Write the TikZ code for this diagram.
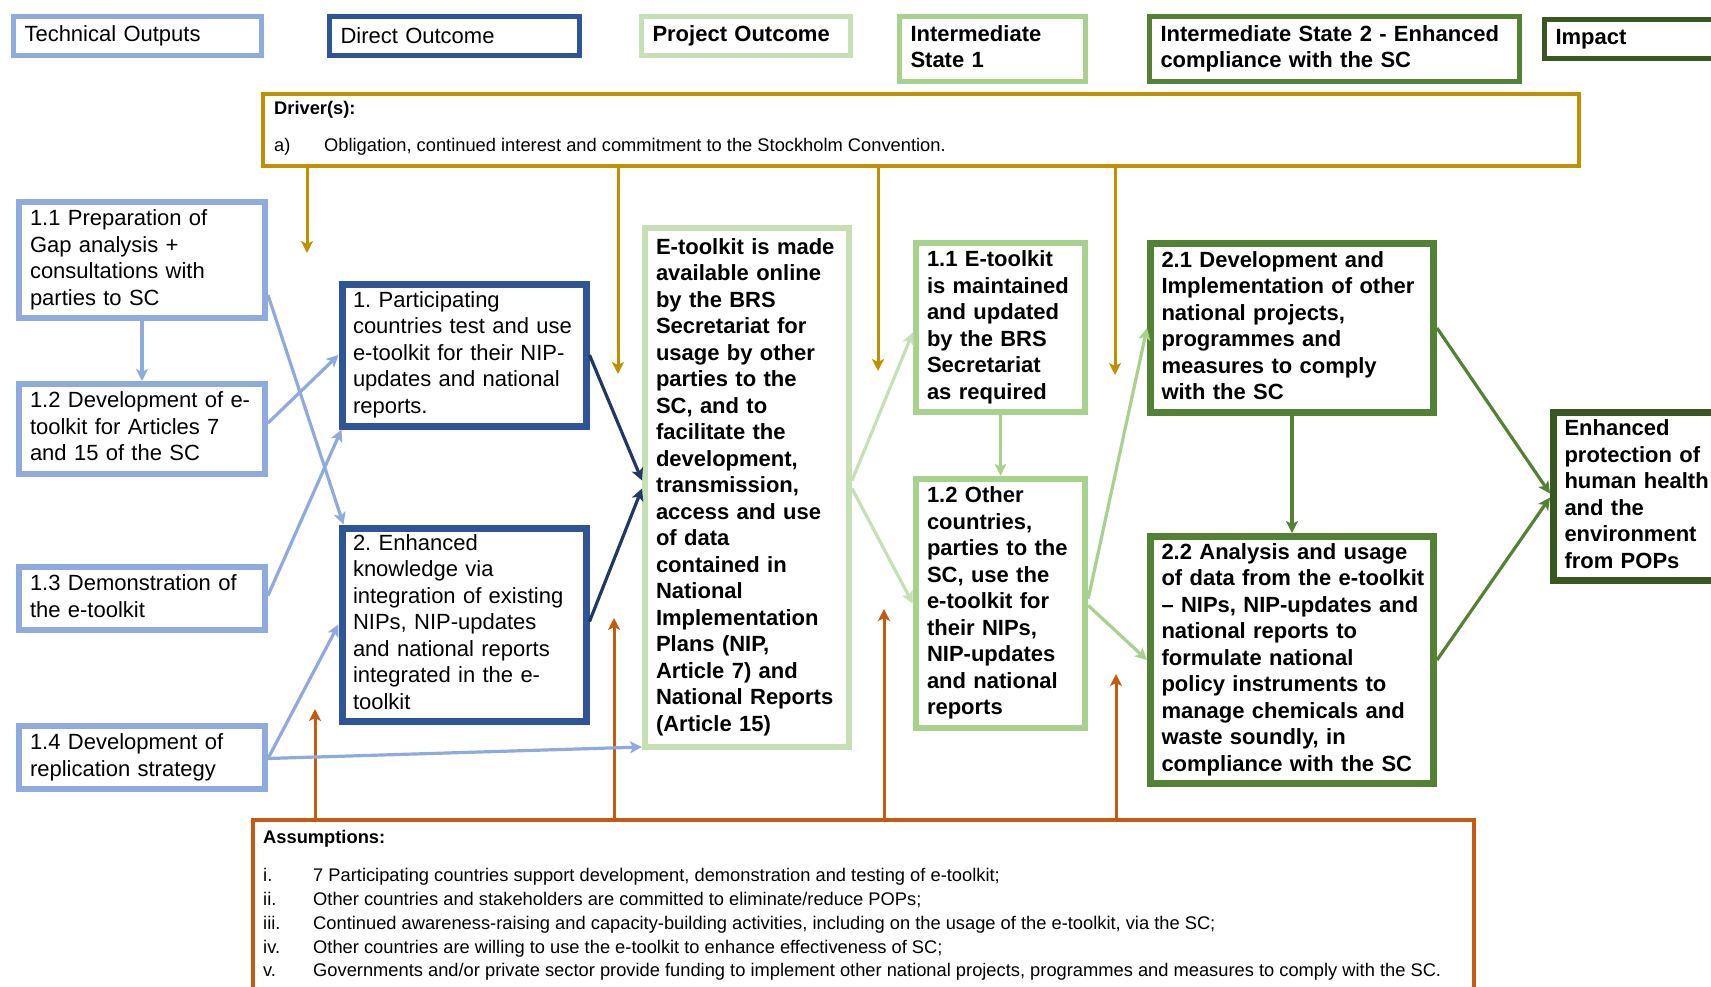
\documentclass[tikz,border=0pt]{standalone}
\usepackage{fontspec}
\setmainfont{Liberation Sans}
\usetikzlibrary{arrows.meta,calc}
\definecolor{cLB}{HTML}{8FAADC}
\definecolor{cDB}{HTML}{2F5597}
\definecolor{cNavy}{HTML}{203864}
\definecolor{cPO}{HTML}{C5E0B4}
\definecolor{cISa}{HTML}{A9D18E}
\definecolor{cISb}{HTML}{548235}
\definecolor{cImp}{HTML}{385723}
\definecolor{cGold}{HTML}{BF9000}
\definecolor{cOr}{HTML}{C55A11}
\newcommand{\Lines}[1]{\begin{tabular}{@{}l@{}}#1\end{tabular}}
\begin{document}
\begin{tikzpicture}[x=1pt,y=-1pt,
  bx/.style={draw, fill=white, align=left, inner xsep=11pt, inner ysep=2pt,
    font=\fontsize{22}{26.5}\selectfont\frenchspacing},
  bxb/.style={bx, font=\fontsize{22}{26.5}\selectfont\bfseries\frenchspacing},
  lb/.style={bx, draw=cLB, line width=6pt},
  db/.style={bx, draw=cDB, line width=7pt},
  po/.style={bxb, draw=cPO, line width=6pt},
  isa/.style={bxb, draw=cISa, line width=6.5pt},
  isb/.style={bxb, draw=cISb, line width=7pt},
  imp/.style={bxb, draw=cImp, line width=7pt},
  tip/.style={-{Stealth[length=12pt,width=12pt,inset=3pt]}},
  arLB/.style={tip, draw=cLB, fill=cLB, line width=3.2pt},
  arNV/.style={tip, draw=cNavy, fill=cNavy, line width=3.2pt},
  arPO/.style={tip, draw=cPO, fill=cPO, line width=3.2pt},
  arISa/.style={tip, draw=cISa, fill=cISa, line width=3.2pt},
  arISb/.style={tip, draw=cISb, fill=cISb, line width=3.2pt},
  arG/.style={tip, draw=cGold, fill=cGold, line width=3pt},
  arO/.style={tip, draw=cOr, fill=cOr, line width=3pt},
  txt/.style={anchor=base west, inner sep=0pt, font=\fontsize{18.3}{22}\selectfont\frenchspacing},
  txtb/.style={txt, font=\fontsize{18.3}{22}\selectfont\bfseries\frenchspacing}
]
\useasboundingbox (0,0) rectangle (1711,987);

% header legend
\node[lb, line width=5pt, minimum width=248pt, minimum height=39pt, text width=226pt] (hTO) at (137.5,36) {Technical Outputs};
\node[db, line width=5pt, minimum width=250pt, minimum height=39pt, text width=228pt] (hDO) at (454.5,36) {Direct Outcome};
\node[po, line width=5pt, minimum width=209pt, minimum height=39pt, text width=187pt] (hPO) at (746,36) {Project Outcome};
\node[isa, line width=5pt, minimum width=186pt, minimum height=65pt, text width=164pt] (hIS1) at (992.5,49) {\Lines{Intermediate\\State 1}};
\node[isb, line width=5pt, minimum width=370pt, minimum height=65pt, text width=348pt] (hIS2) at (1334.5,49) {\Lines{Intermediate State 2 - Enhanced\\compliance with the SC}};
\node[imp, line width=5pt, minimum width=220pt, minimum height=39pt, text width=198pt] (hImp) at (1654.5,39) {Impact};

% drivers
\node[draw=cGold, line width=3.5pt, minimum width=1316pt, minimum height=72pt, inner sep=0pt] (drv) at (921,130) {};
\node[txtb] (drvT) at (274,115) {Driver(s):};
\node[txt] (drvN) at (274,152) {a)};
\node[txt] (drvA) at (324,152) {Obligation, continued interest and commitment to the Stockholm Convention.};

% assumptions
\node[draw=cOr, line width=4pt, minimum width=1221pt, minimum height=190pt, inner sep=0pt] (asm) at (863.5,915) {};
\node[txtb] (asmT) at (263,843) {Assumptions:};
\node[txt] (asN1) at (263,881) {i.};
\node[txt] (asA1) at (313,881) {7 Participating countries support development, demonstration and testing of e-toolkit;};
\node[txt] (asN2) at (263,905) {ii.};
\node[txt] (asA2) at (313,905) {Other countries and stakeholders are committed to eliminate/reduce POPs;};
\node[txt] (asN3) at (263,929) {iii.};
\node[txt] (asA3) at (313,929) {Continued awareness-raising and capacity-building activities, including on the usage of the e-toolkit, via the SC;};
\node[txt] (asN4) at (263,953) {iv.};
\node[txt] (asA4) at (313,953) {Other countries are willing to use the e-toolkit to enhance effectiveness of SC;};
\node[txt] (asN5) at (263,976) {v.};
\node[txt] (asA5) at (313,976) {Governments and/or private sector provide funding to implement other national projects, programmes and measures to comply with the SC.};

% technical outputs
\node[lb, minimum width=246pt, minimum height=116pt, text width=224pt] (o11) at (142,260) {\Lines{1.1 Preparation of\\Gap analysis +\\consultations with\\parties to SC}};
\node[lb, minimum width=246pt, minimum height=90pt, text width=224pt] (o12) at (142,429) {\Lines{1.2 Development of e-\\toolkit for Articles 7\\and 15 of the SC}};
\node[lb, minimum width=246pt, minimum height=63pt, text width=224pt] (o13) at (142,598.5) {\Lines{1.3 Demonstration of\\the e-toolkit}};
\node[lb, minimum width=246pt, minimum height=63pt, text width=224pt] (o14) at (142,757.5) {\Lines{1.4 Development of\\replication strategy}};

% direct outcomes
\node[db, minimum width=244pt, minimum height=142pt, text width=222pt] (d1) at (464,355) {\Lines{1. Participating\\countries test and use\\e-toolkit for their NIP-\\updates and national\\reports.}};
\node[db, minimum width=244pt, minimum height=193pt, text width=222pt] (d2) at (464,624.5) {\Lines{2. Enhanced\\knowledge via\\integration of existing\\NIPs, NIP-updates\\and national reports\\integrated in the e-\\toolkit}};

% project outcome
\node[po, minimum width=204pt, minimum height=519pt, text width=182pt] (po) at (747,487.5) {\Lines{E-toolkit is made\\available online\\by the BRS\\Secretariat for\\usage by other\\parties to the\\SC, and to\\facilitate the\\development,\\transmission,\\access and use\\of data\\contained in\\National\\Implementation\\Plans (NIP,\\Article 7) and\\National Reports\\(Article 15)}};

% intermediate state 1
\node[isa, minimum width=169pt, minimum height=169pt, text width=147pt] (is11) at (1000.5,327.5) {\Lines{1.1 E-toolkit\\is maintained\\and updated\\by the BRS\\Secretariat\\as required}};
\node[isa, minimum width=169pt, minimum height=249pt, text width=147pt] (is12) at (1000.5,603.5) {\Lines{1.2 Other\\countries,\\parties to the\\SC, use the\\e-toolkit for\\their NIPs,\\NIP-updates\\and national\\reports}};

% intermediate state 2
\node[isb, minimum width=283pt, minimum height=169pt, text width=261pt] (is21) at (1292,328) {\Lines{2.1 Development and\\Implementation of other\\national projects,\\programmes and\\measures to comply\\with the SC}};
\node[isb, minimum width=283pt, minimum height=247pt, text width=261pt] (is22) at (1292,660) {\Lines{2.2 Analysis and usage\\of data from the e-toolkit\\-- NIPs, NIP-updates and\\national reports to\\formulate national\\policy instruments to\\manage chemicals and\\waste soundly, in\\compliance with the SC}};

% impact
\node[imp, minimum width=190pt, minimum height=168pt, text width=168pt] (imp) at (1648.5,496.5) {\Lines{Enhanced\\protection of\\human health\\and the\\environment\\from POPs}};

% driver arrows
\coordinate (g1) at (307,253);
\coordinate (g2) at (618,374);
\coordinate (g3) at (878,371);
\coordinate (g4) at (1115,375);
\foreach \g in {g1,g2,g3,g4} \draw[arG] (drv.south -| \g) -- (\g);

% assumption arrows
\coordinate (a1) at (315,709);
\coordinate (a2) at (614,618);
\coordinate (a3) at (884,609);
\coordinate (a4) at (1116,674);
\foreach \a in {a1,a2,a3,a4} \draw[arO] (asm.north -| \a) -- (\a);

% technical outputs arrows
\draw[arLB] (o11.south) -- (o12.north);
\draw[arLB] ([yshift=-35pt]o11.east) -- ([xshift=5pt]d2.north west);
\draw[arLB] ([yshift=6pt]o12.east) -- (d1.west);
\draw[arLB] ([yshift=3pt]o13.east) -- ([xshift=3pt]d1.south west);
\draw[arLB] ([yshift=-1pt]o14.east) -- (d2.west);
\draw[arLB] ([yshift=-1pt]o14.east) -- ([yshift=3pt]po.south west);

% direct outcome arrows
\draw[arNV] (d1.east) -- ([yshift=7pt]po.west);
\draw[arNV] ([yshift=3pt]d2.east) -- ([yshift=-1pt]po.west);

% project outcome arrows
\draw[arPO] ([yshift=7pt]po.east) -- ([yshift=-5pt]is11.west);
\draw[arPO] ([yshift=-1pt]po.east) -- (is12.west);

% IS1 arrows
\draw[arISa] (is11.south) -- (is12.north);
\draw[arISa] ([yshift=5pt]is12.east) -- (is21.west);
\draw[arISa] ([yshift=-2pt]is12.east) -- (is22.west);

% IS2 arrows
\draw[arISb] (is21.south) -- (is22.north);
\draw[arISb] (is21.east) -- ([yshift=3pt]imp.west);
\draw[arISb] (is22.east) -- ([yshift=-1pt]imp.west);
\end{tikzpicture}
\end{document}
